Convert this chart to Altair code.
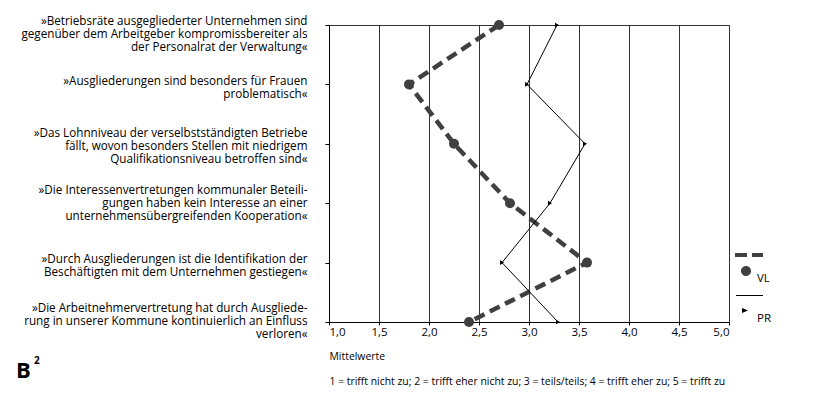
import altair as alt
import pandas as pd

statements = [
    "»Betriebsräte ausgegliederter Unternehmen sind\ngegenüber dem Arbeitgeber kompromissbereiter als\nder Personalrat der Verwaltung«",
    "»Ausgliederungen sind besonders für Frauen\nproblematisch«",
    "»Das Lohnniveau der verselbstständigten Betriebe\nfällt, wovon besonders Stellen mit niedrigem\nQualifikationsniveau betroffen sind«",
    "»Die Interessenvertretungen kommunaler Beteili-\ngungen haben kein Interesse an einer\nunternehmensübergreifenden Kooperation«",
    "»Durch Ausgliederungen ist die Identifikation der\nBeschäftigten mit dem Unternehmen gestiegen«",
    "»Die Arbeitnehmervertretung hat durch Ausgliede-\nrung in unserer Kommune kontinuierlich an Einfluss\nverloren«",
]
vl_values = [2.70, 1.80, 2.25, 2.81, 3.58, 2.40]
pr_values = [3.28, 2.98, 3.56, 3.21, 2.73, 3.29]
series = ["VL", "PR"]
x_ticks = [1.0, 1.5, 2.0, 2.5, 3.0, 3.5, 4.0, 4.5, 5.0]
x_title = ["Mittelwerte",
           "1 = trifft nicht zu; 2 = trifft eher nicht zu; 3 = teils/teils; 4 = trifft eher zu; 5 = trifft zu"]
badge_letter = ["B"]
badge_sup = ["2"]

rows = []
for i, s in enumerate(statements):
    rows.append({"statement": s, "series": "VL", "value": vl_values[i], "idx": i})
    rows.append({"statement": s, "series": "PR", "value": pr_values[i], "idx": i})
df = pd.DataFrame(rows)

FONT = "Open Sans"

x_enc = alt.X(
    "value:Q",
    scale=alt.Scale(domain=[1, 5], nice=False, zero=False),
    axis=alt.Axis(
        values=x_ticks,
        labelExpr="replace(format(datum.value, '.1f'), '.', ',')",
        grid=True, gridColor="#333333", gridWidth=1,
        tickSize=3, tickColor="#000000", domainColor="#000000",
        labelFontSize=11.5, labelColor="#000000", labelPadding=1,
        title=x_title, titleAnchor="start", titleAlign="left", titleBaseline="top",
        titleX=0, titleY=29, titleFontSize=10.4, titleFontWeight="normal",
        titleLineHeight=25, titleColor="#000000",
    ),
)
y_enc = alt.Y(
    "statement:N",
    sort=statements,
    scale=alt.Scale(type="point", padding=0),
    axis=alt.Axis(
        title=None,
        labelExpr="split(datum.label, '\\n')",
        labelLimit=400, labelFontSize=11.7, labelLineHeight=13,
        labelColor="#000000", labelPadding=18,
        labelOffset={
            "condition": [
                {"test": "datum.index < 0.1", "value": -5},
                {"test": "datum.index < 0.3", "value": -4},
                {"test": "datum.index < 0.5", "value": -11},
                {"test": "datum.index < 0.7", "value": -14},
                {"test": "datum.index < 0.9", "value": -4},
            ],
            "value": -15,
        },
        tickSize=4, tickColor="#000000", domainColor="#000000", grid=False,
    ),
)

base = alt.Chart(df)

vl_line = base.transform_filter(alt.datum.series == "VL").mark_line(
    color="#404040", strokeWidth=4.5, strokeDash=[11, 6], strokeCap="butt"
).encode(x=x_enc, y=y_enc, order="idx:Q")
vl_pts = base.transform_filter(alt.datum.series == "VL").mark_point(
    shape="circle", filled=True, color="#404040", size=100, opacity=1
).encode(x=x_enc, y=y_enc)
pr_line = base.transform_filter(alt.datum.series == "PR").mark_line(
    color="#000000", strokeWidth=1
).encode(x=x_enc, y=y_enc, order="idx:Q")
pr_pts = base.transform_filter(alt.datum.series == "PR").mark_point(
    shape="triangle-right", filled=True, color="#000000", size=22, opacity=1
).encode(x=x_enc, y=y_enc)

path_vl = ("M-0.257,-1.486 h0.686 v0.229 h-0.686 Z "
           "M0.714,-1.486 h0.629 v0.229 h-0.629 Z "
           "M0.086,-0.457 a0.286,0.286 0 1,0 0.572,0 a0.286,0.286 0 1,0 -0.572,0 Z")
path_pr = ("M-0.2,-1.371 h1.543 v0.057 h-1.543 Z "
           "M0.143,-0.629 L0.486,-0.486 L0.143,-0.343 Z")

leg = alt.Legend(
    title=None, orient="none", legendX=393, legendY=236.5, direction="vertical",
    symbolSize=1225, symbolStrokeWidth=0, symbolOpacity=1, labelOffset=0,
    rowPadding=10, padding=0, labelFontSize=11.5, labelColor="#000000", labelFont=FONT,
)
legend_layer = base.mark_point(filled=True, opacity=0).encode(
    x=x_enc, y=y_enc,
    color=alt.Color("series:N", scale=alt.Scale(domain=series, range=["#404040", "#000000"]), legend=leg),
    shape=alt.Shape("series:N", scale=alt.Scale(domain=series, range=[path_vl, path_pr]), legend=leg),
)

badge_layer = alt.Chart(pd.DataFrame({"t": badge_letter})).mark_text(
    fontSize=22, fontWeight="bold", align="left", baseline="alphabetic", color="#000000", font=FONT
).encode(text="t:N", x=alt.value(-313), y=alt.value(353))
sup_layer = alt.Chart(pd.DataFrame({"t": badge_sup})).mark_text(
    fontSize=10, fontWeight="bold", align="left", baseline="alphabetic", color="#000000", font=FONT
).encode(text="t:N", x=alt.value(-295), y=alt.value(339))

chart = alt.layer(vl_line, pr_line, vl_pts, pr_pts, legend_layer, badge_layer, sup_layer).properties(
    width=400, height=297,
    autosize=alt.AutoSizeParams(type="none"),
    padding={"left": 321, "top": 17, "right": 76, "bottom": 68},
).configure(font=FONT).configure_view(stroke="#333333", strokeWidth=1)

chart.save("out.html", embed_options={"renderer": "svg", "actions": False})
